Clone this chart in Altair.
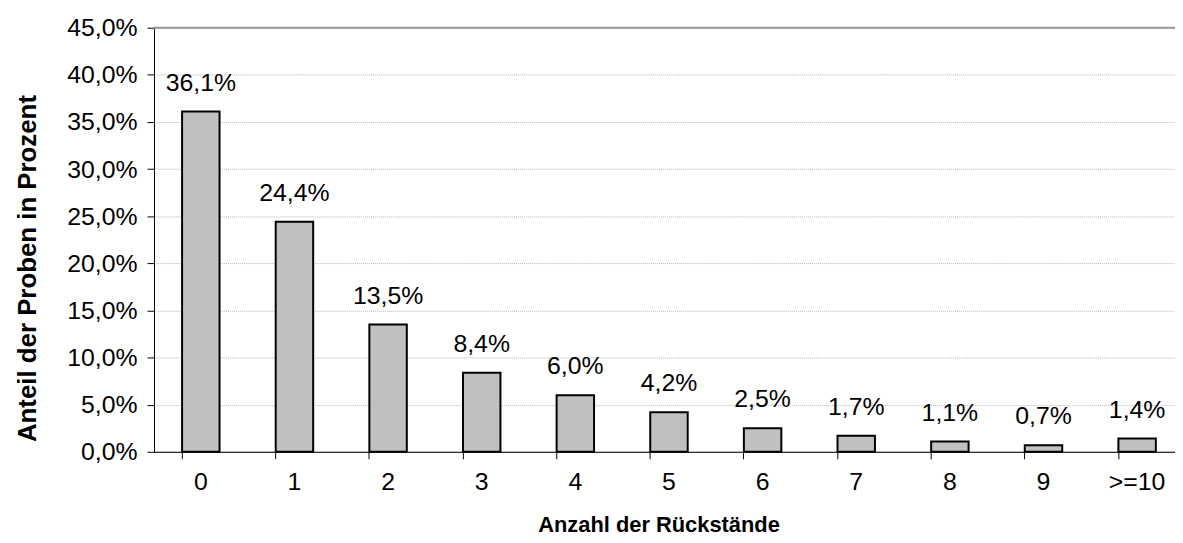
import altair as alt
import pandas as pd

categories = ["0", "1", "2", "3", "4", "5", "6", "7", "8", "9", ">=10"]
values = [0.361, 0.244, 0.135, 0.084, 0.060, 0.042, 0.025, 0.017, 0.011, 0.007, 0.014]

df = pd.DataFrame({"cat": categories, "val": values})

FONT = "Liberation Sans"
FS = 25

x = alt.X("cat:N", sort=categories, title="Anzahl der Rückstände",
          scale=alt.Scale(paddingInner=0.6, paddingOuter=0.3, range=[0, 1037]),
          axis=alt.Axis(labelAngle=0, bandPosition=0, tickColor="black", domainColor="black",
                        tickSize=7, labelPadding=11, grid=False,
                        titleX=508, titleY=73, titleBaseline="middle",
                        labelFontSize=FS, titleFontSize=22, titleFontWeight="bold",
                        labelColor="black", titleColor="black", labelFont=FONT, titleFont=FONT))
y = alt.Y("val:Q", title="Anteil der Proben in Prozent",
          scale=alt.Scale(domain=[0, 0.45], nice=False),
          axis=alt.Axis(values=[i * 0.05 for i in range(10)],
                        labelExpr="replace(format(datum.value, '.1%'), '.', ',')",
                        tickColor="black", domainColor="black", tickSize=7, labelPadding=10,
                        titleX=-127, titleY=242, titleBaseline="middle", titleAngle=270,
                        gridColor="#b8b8b8", gridDash=[1, 1], gridWidth=1,
                        labelFontSize=FS, titleFontSize=26, titleFontWeight="bold",
                        labelColor="black", titleColor="black", labelFont=FONT, titleFont=FONT))

bars = alt.Chart(df).mark_bar(color="#c0c0c0", stroke="black", strokeWidth=2).encode(x=x, y=y)

labels = alt.Chart(df).transform_calculate(
    lab="replace(format(datum.val, '.1%'), '.', ',')"
).mark_text(baseline="bottom", dy=-16, fontSize=FS, font=FONT, color="black").encode(
    x=alt.X("cat:N", sort=categories), y="val:Q", text="lab:N")

top = alt.Chart(pd.DataFrame({"v": [0.45]})).mark_rule(color="#999999", strokeWidth=2).encode(
    y="v:Q", x=alt.value(0), x2=alt.value(1040))

chart = alt.layer(bars, labels, top).properties(
    width=1028, height=427,
    autosize=alt.AutoSizeParams(type="none"),
    padding={"left": 147, "top": 18, "right": 0, "bottom": 92},
).configure_view(stroke=None).configure(background="white")

chart.save("out.html", embed_options={"renderer": "svg", "actions": False})
